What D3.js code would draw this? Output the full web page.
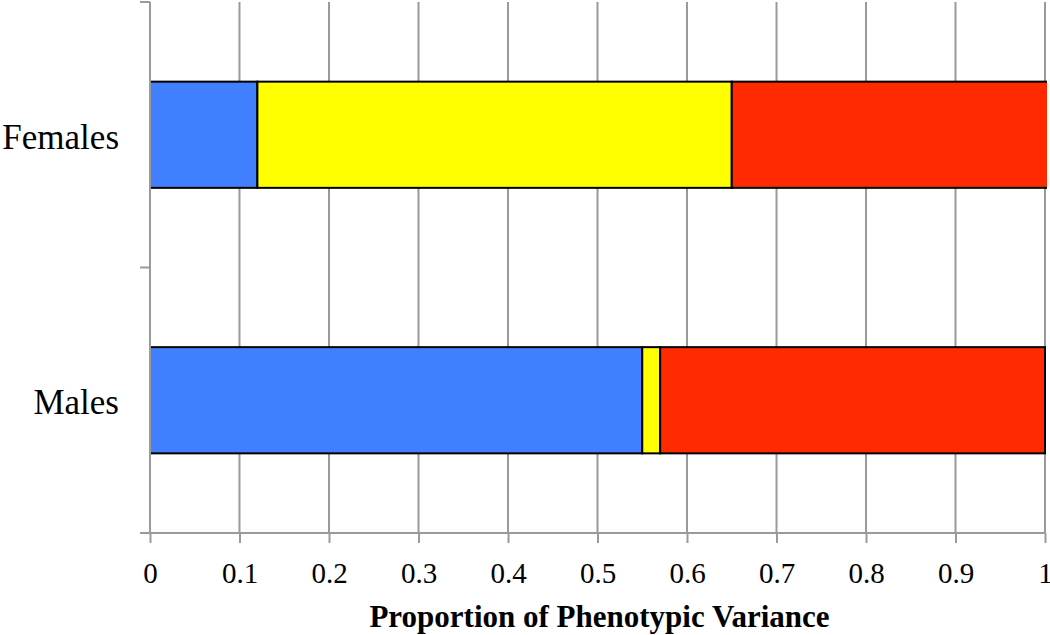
<!DOCTYPE html>
<html><head><meta charset="utf-8">
<script src="https://cdn.jsdelivr.net/npm/d3@7"></script>
<style>body{margin:0;background:#fff}svg{display:block}</style>
</head><body>
<svg id="c" width="1050" height="635"></svg>
<script>
const categories = ["Females", "Males"];
const seriesNames = ["A", "B", "C"];
const seriesColors = ["#4080ff", "#ffff00", "#ff2a00"];
const femalesValues = [0.12, 0.53, 0.36];
const malesValues = [0.55, 0.02, 0.43];
const xTicks = [0, 0.1, 0.2, 0.3, 0.4, 0.5, 0.6, 0.7, 0.8, 0.9, 1];
const xTitle = "Proportion of Phenotypic Variance";

const values = [femalesValues, malesValues];
const svg = d3.select("#c");
const m = {l: 150, r: 5, t: 2, b: 102};
const W = 1050, H = 635;
const x = d3.scaleLinear().domain([0, 1]).range([m.l, W - m.r]);
const y = d3.scaleBand().domain(categories).range([m.t, H - m.b]).paddingInner(0.6).paddingOuter(0.3);
const yb = d3.scaleBand().domain(categories).range([m.t, H - m.b]);

const gray = "#9a9a9a";
// gridlines
svg.append("g").selectAll("line").data(xTicks.slice(1)).join("line")
  .attr("x1", d => x(d)).attr("x2", d => x(d))
  .attr("y1", m.t).attr("y2", H - m.b)
  .attr("stroke", gray).attr("stroke-width", 2);

const defs = svg.append("defs");
defs.append("clipPath").attr("id", "clip").append("rect")
  .attr("x", m.l).attr("y", 0).attr("width", x(1) + 2 - m.l).attr("height", H);

// bars
const gBars = svg.append("g").attr("clip-path", "url(#clip)");
categories.forEach((c, i) => {
  let acc = 0;
  values[i].forEach((v, j) => {
    gBars.append("rect")
      .attr("x", x(acc)).attr("width", x(acc + v) - x(acc))
      .attr("y", y(c)).attr("height", y.bandwidth())
      .attr("fill", seriesColors[j]).attr("stroke", "#000").attr("stroke-width", 2);
    acc += v;
  });
});

// x axis
const xAxis = svg.append("g").attr("transform", `translate(0,${H - m.b})`)
  .call(d3.axisBottom(x).tickValues(xTicks).tickFormat(d => d3.format("")(d)).tickSize(10).tickPadding(19));
xAxis.select(".domain").attr("stroke", gray).attr("stroke-width", 2).attr("d", `M${m.l - 10},0H${W - m.r}`);
xAxis.selectAll(".tick line").attr("stroke", gray).attr("stroke-width", 2);
xAxis.selectAll("text").attr("font-family", "Liberation Serif, serif").attr("font-size", 29).attr("fill", "#000");

// y axis
const yAxisG = svg.append("g");
yAxisG.append("line").attr("x1", m.l).attr("x2", m.l).attr("y1", m.t).attr("y2", H - m.b)
  .attr("stroke", gray).attr("stroke-width", 2);
const bounds = categories.map(c => yb(c)).concat([H - m.b]);
yAxisG.selectAll(".yt").data(bounds).join("line").attr("class", "yt")
  .attr("x1", m.l - 10).attr("x2", m.l).attr("y1", d => d).attr("y2", d => d)
  .attr("stroke", gray).attr("stroke-width", 2);
yAxisG.selectAll("text").data(categories).join("text")
  .attr("x", 119).attr("y", d => y(d) + y.bandwidth() / 2)
  .attr("dy", "0.4em").attr("text-anchor", "end")
  .attr("font-family", "Liberation Serif, serif").attr("font-size", 35).text(d => d);

svg.append("text").attr("x", (x(0) + x(1)) / 2 + 2).attr("y", 627)
  .attr("text-anchor", "middle").attr("font-family", "Liberation Serif, serif")
  .attr("font-weight", "bold").attr("font-size", 31).text(xTitle);
</script>
</body></html>
